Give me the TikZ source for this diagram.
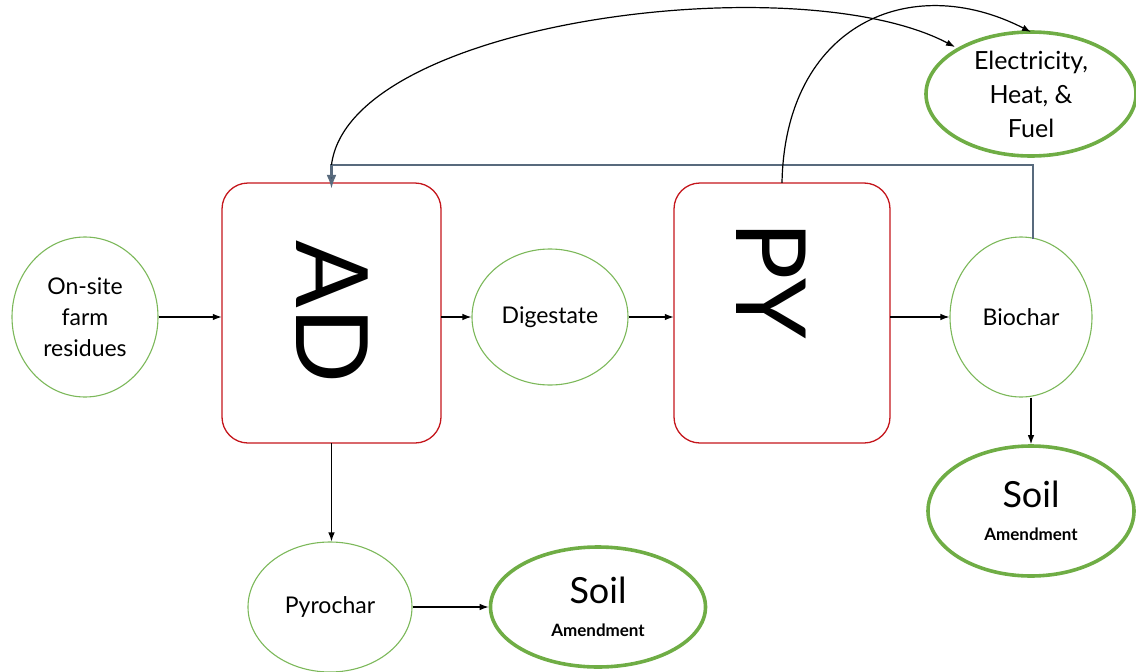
\documentclass[tikz,border=0pt]{standalone}
\usepackage{fontspec}
\setmainfont{Lato}
\usetikzlibrary{shapes.geometric,arrows.meta,calc}
\definecolor{boxred}{HTML}{C4161C}
\definecolor{lgreen}{HTML}{7CB85A}
\definecolor{dgreen}{HTML}{6FAD45}
\definecolor{slate}{HTML}{586A7D}
\definecolor{slatetip}{HTML}{3F566C}
\tikzset{
  proc/.style={draw=boxred,line width=1.3pt,rounded corners=26pt,inner sep=0pt},
  thin ell/.style={ellipse,draw=lgreen,line width=1.1pt,inner sep=0pt,align=center,
    font=\fontsize{23}{31}\selectfont},
  thick ell/.style={ellipse,draw=dgreen,line width=3.6pt,inner sep=0pt,align=center},
  soil ell/.style={thick ell,font=\fontsize{36}{33}\selectfont},
  amend/.style={},
  arr/.style={line width=1.2pt,-{Latex[length=9pt,width=6.5pt]}},
  slateline/.style={draw=slate,line width=2.4pt,-{Latex[length=14pt,width=10pt,fill=slatetip]}},
  big/.style={rotate=-90,inner sep=0pt},
}
\newcommand{\amendtext}{{\fontsize{17}{20}\selectfont\bfseries Amendment}}
\begin{document}
\begin{tikzpicture}[x=1pt,y=-1pt]
\useasboundingbox (0,0) rectangle (1136,672);
% process boxes
\draw[proc] (222,183) rectangle (441,443);
\node[inner sep=0pt,minimum width=219pt,minimum height=260pt] (AD) at (331.5,313) {};
\node[big,font=\fontsize{100}{100}\selectfont] (ADt) at (332,312) {AD};
\draw[proc] (674,183) rectangle (890,443);
\node[inner sep=0pt,minimum width=216pt,minimum height=260pt] (PY) at (782,313) {};
\node[big,font=\fontsize{97}{97}\selectfont] (PYt) at (771,280) {PY};
% ellipses
\node[thin ell,minimum width=146pt,minimum height=160pt] (farm) at (85,317) {On-site\\farm\\residues};
\node[thin ell,minimum width=156pt,minimum height=136pt] (dig) at (550,317) {Digestate};
\node[thin ell,minimum width=142pt,minimum height=160pt] (bio) at (1021,317) {Biochar};
\node[thin ell,minimum width=164pt,minimum height=130pt] (pyro) at (330,607) {Pyrochar};
\node[soil ell,minimum width=206pt,minimum height=130pt] (soilR) at (1031,511)
  {Soil\\\amendtext};
\node[soil ell,minimum width=215pt,minimum height=120pt] (soilB) at (598,607)
  {Soil\\\amendtext};
\node[thick ell,minimum width=210pt,minimum height=124pt,font=\fontsize{25}{34}\selectfont] (elec) at (1031,94)
  {Electricity,\\Heat, \&\\Fuel};
% straight connectors
\draw[arr] (farm.east) -- (farm.east -| AD.west);
\draw[arr] (dig.west -| AD.east) -- (dig.west);
\draw[arr] (dig.east) -- (dig.east -| PY.west);
\draw[arr] (bio.west -| PY.east) -- (bio.west);
\draw[arr] (soilR.north |- bio.south) -- (soilR.north);
\draw[arr] (AD.south) -- (AD.south |- pyro.north);
\draw[arr] (pyro.east) -- (soilB.west);
% slate return line
\coordinate (bioTop) at (1033,239);
\draw[slateline] (bioTop) |- ([yshift=18pt]AD.north) -- ([yshift=-6pt]AD.north);
% curves to electricity
\coordinate (e1) at (955,47);
\coordinate (e2) at (1031,32);
\draw[arr] ([yshift=18pt]AD.north) .. controls (350,20) and (800,-35) .. (e1);
\draw[arr] (PY.north) .. controls (785,25) and (910,-30) .. (e2);
\end{tikzpicture}
\end{document}
